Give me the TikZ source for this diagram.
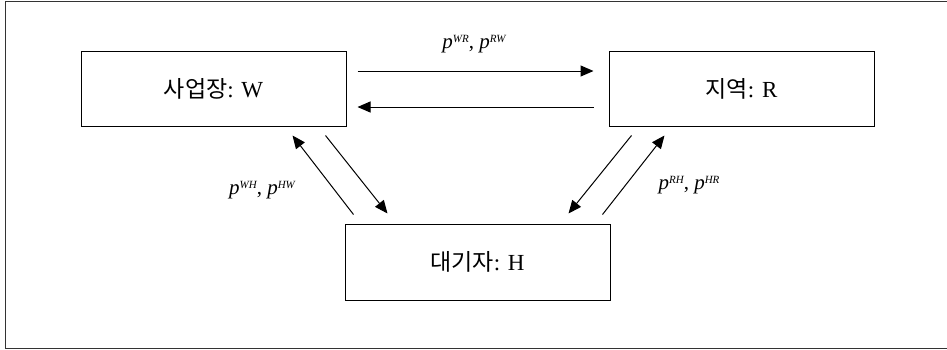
\documentclass[tikz,border=0pt]{standalone}
\usepackage{fontspec}
\setmainfont{Liberation Serif}
\newfontfamily\kr{Noto Sans CJK KR}
\usepackage{tikz}
\usetikzlibrary{arrows.meta,positioning}
\newcommand{\pp}[1]{\textit{p}\raisebox{0.6ex}{\fontsize{11}{12}\selectfont\itshape #1}}

\begin{document}
\begin{tikzpicture}[x=1pt,y=-1pt,>={Triangle[length=13pt,width=11pt]},font=\fontsize{23}{27}\selectfont,
  box/.style={draw,line width=1pt,minimum width=265pt,minimum height=75pt,inner sep=0pt},
  flow/.style={->,line width=1pt},
  lab/.style={inner sep=1pt,font=\fontsize{21}{24}\selectfont}]
  \useasboundingbox (0,0) rectangle (947,349);
  \draw[line width=1pt,black!80] (948,1.5) -- (5,1.5) -- (5,348) -- (948,348);
  \node[box] (w) at (213.5,88.5) {{\kr 사업장}: W};
  \node[box] (r) at (741.5,88.5) {{\kr 지역}: R};
  \node[box,minimum height=76pt] (h) at (477.5,262) {{\kr 대기자}: H};
  \draw[flow] ([shift={(11,-17.5)}]w.east) -- ([shift={(-15,-17.5)}]r.west);
  \draw[flow] ([shift={(-15,18.5)}]r.west) -- ([shift={(11,18.5)}]w.east);
  \draw[flow] ([shift={(9,-9)}]h.north west) -- ([shift={(-54,9)}]w.south east);
  \draw[flow] ([shift={(-21,9)}]w.south east) -- ([shift={(43,-10)}]h.north west);
  \draw[flow] ([shift={(23,9)}]r.south west) -- ([shift={(-42,-10)}]h.north east);
  \draw[flow] ([shift={(-8,-9)}]h.north east) -- ([shift={(56,9)}]r.south west);
  \node[lab] (lwr) at (474,44) {\pp{WR}, \pp{RW}};
  \node[lab] (lwh) at (262,190) {\pp{WH}, \pp{HW}};
  \node[lab] (lrh) at (689,185) {\pp{RH}, \pp{HR}};
\end{tikzpicture}
\end{document}
